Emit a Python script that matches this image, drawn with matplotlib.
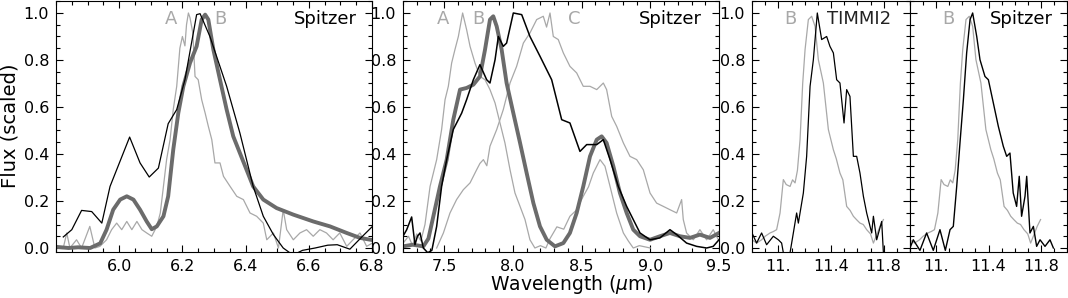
import numpy as np
import matplotlib
matplotlib.use('Agg')
import matplotlib.pyplot as plt
from matplotlib.ticker import MultipleLocator, FixedLocator, FixedFormatter

# ---- panel 1 : 6.2 micron band ----
p1_black_x = [5.823, 5.85, 5.881, 5.913, 5.945, 5.971, 6.033, 6.066, 6.095, 6.124, 6.155, 6.182,
              6.208, 6.245, 6.256, 6.287, 6.34, 6.382, 6.424, 6.456, 6.488, 6.519, 6.55, 6.58,
              6.62, 6.66, 6.69, 6.73, 6.77, 6.8]
p1_black_y = [0.047, 0.078, 0.16, 0.155, 0.106, 0.262, 0.472, 0.362, 0.302, 0.34, 0.529, 0.589,
              0.716, 0.993, 0.997, 0.9, 0.688, 0.489, 0.262, 0.135, 0.057, 0.0, -0.03, -0.01,
              0.0, 0.012, 0.014, -0.005, 0.05, 0.09]

p1_thick_x = [5.8, 5.84, 5.87, 5.908, 5.94, 5.96, 5.981, 6.003, 6.024, 6.045, 6.066, 6.087, 6.103,
              6.119, 6.14, 6.155, 6.171, 6.187, 6.203, 6.224, 6.245, 6.261, 6.272, 6.282, 6.298,
              6.319, 6.34, 6.361, 6.382, 6.403, 6.424, 6.456, 6.498, 6.551, 6.614, 6.667, 6.72,
              6.762, 6.796]
p1_thick_y = [0.005, 0.0, 0.003, 0.0, 0.02, 0.078, 0.163, 0.206, 0.22, 0.206, 0.163, 0.113, 0.08,
              0.092, 0.135, 0.22, 0.418, 0.574, 0.688, 0.787, 0.858, 0.972, 0.993, 0.972, 0.844,
              0.716, 0.589, 0.475, 0.404, 0.333, 0.262, 0.206, 0.17, 0.142, 0.113, 0.092, 0.064,
              0.043, 0.035]

p1_gray_x = [5.8, 5.823, 5.834, 5.844, 5.865, 5.881, 5.907, 5.923, 5.939, 5.96, 5.976, 5.992, 6.008,
             6.024, 6.04, 6.056, 6.072, 6.087, 6.103, 6.119, 6.13, 6.14, 6.15, 6.161, 6.171, 6.182,
             6.192, 6.2, 6.208, 6.213, 6.219, 6.224, 6.233, 6.24, 6.25, 6.261, 6.272, 6.282, 6.293,
             6.303, 6.319, 6.33, 6.351, 6.372, 6.393, 6.414, 6.435, 6.456, 6.467, 6.488, 6.504,
             6.519, 6.53, 6.551, 6.572, 6.593, 6.614, 6.635, 6.656, 6.677, 6.698, 6.72, 6.74,
             6.762, 6.783, 6.8]
p1_gray_y = [0.007, 0.0, 0.064, 0.0, 0.035, 0.0, 0.092, 0.0, 0.007, 0.035, 0.078, 0.106, 0.078,
             0.113, 0.078, 0.113, 0.078, 0.064, 0.05, 0.092, 0.149, 0.262, 0.376, 0.461, 0.589,
             0.688, 0.85, 0.9, 0.86, 0.95, 1.0, 0.98, 0.915, 0.73, 0.716, 0.631, 0.574, 0.518,
             0.461, 0.362, 0.362, 0.305, 0.262, 0.22, 0.206, 0.149, 0.135, 0.106, 0.035, 0.064,
             0.0, 0.163, 0.078, 0.035, 0.064, 0.078, 0.05, 0.078, 0.064, 0.035, 0.064, 0.007,
             0.035, 0.064, 0.007, 0.02]

# ---- panel 2 : 7.7 / 8.6 micron bands ----
p2_black_x = [7.2, 7.227, 7.263, 7.287, 7.305, 7.324, 7.348, 7.38, 7.41, 7.445, 7.481, 7.518, 7.566,
              7.627, 7.663, 7.712, 7.76, 7.809, 7.833, 7.87, 7.894, 7.93, 7.954, 8.003, 8.064,
              8.124, 8.197, 8.282, 8.355, 8.415, 8.488, 8.537, 8.61, 8.658, 8.707, 8.767, 8.828,
              8.876, 8.925, 8.998, 9.07, 9.143, 9.192, 9.264, 9.337, 9.41, 9.458, 9.5]
p2_black_y = [0.05, 0.078, 0.132, 0.014, 0.05, 0.064, 0.0, -0.02, -0.01, 0.092, 0.262, 0.376, 0.504,
              0.574, 0.631, 0.716, 0.78, 0.716, 0.702, 0.801, 0.9, 0.858, 0.872, 1.0, 0.993, 0.9,
              0.816, 0.716, 0.546, 0.532, 0.411, 0.44, 0.44, 0.461, 0.376, 0.262, 0.177, 0.121,
              0.064, 0.035, 0.043, 0.078, 0.057, 0.021, 0.007, 0.0, 0.007, 0.035]

p2_thick_x = [7.2, 7.27, 7.348, 7.385, 7.421, 7.469, 7.518, 7.566, 7.615, 7.663, 7.712, 7.76, 7.797,
              7.833, 7.857, 7.882, 7.918, 7.954, 8.003, 8.052, 8.1, 8.149, 8.197, 8.246, 8.306,
              8.367, 8.415, 8.464, 8.512, 8.561, 8.61, 8.646, 8.682, 8.731, 8.779, 8.828, 8.876,
              8.925, 8.998, 9.07, 9.143, 9.216, 9.289, 9.361, 9.434, 9.5]
p2_thick_y = [0.007, 0.014, 0.007, 0.04, 0.135, 0.262, 0.376, 0.546, 0.674, 0.681, 0.695, 0.73,
              0.844, 0.972, 0.986, 0.943, 0.844, 0.702, 0.574, 0.447, 0.319, 0.191, 0.092, 0.035,
              0.007, 0.021, 0.064, 0.149, 0.262, 0.39, 0.461, 0.475, 0.447, 0.348, 0.234, 0.149,
              0.078, 0.05, 0.035, 0.05, 0.064, 0.05, 0.043, 0.057, 0.043, 0.064]

p2_grayA_x = [7.2, 7.24, 7.27, 7.3, 7.33, 7.36, 7.397, 7.445, 7.481, 7.506, 7.53, 7.554, 7.578,
              7.603, 7.634, 7.663, 7.688, 7.724, 7.76, 7.797, 7.833, 7.87, 7.906, 7.942, 7.979,
              8.015, 8.052, 8.088, 8.124, 8.16, 8.2, 8.24, 8.27, 8.32, 8.37, 8.415, 8.46, 8.512,
              8.55, 8.585, 8.634, 8.67, 8.707, 8.755, 8.804, 8.84, 8.876, 8.92, 9.0]
p2_grayA_y = [0.02, 0.05, 0.01, 0.06, 0.03, 0.1, 0.262, 0.376, 0.504, 0.631, 0.688, 0.787, 0.844,
              0.9, 1.0, 0.929, 0.858, 0.787, 0.73, 0.716, 0.674, 0.617, 0.532, 0.447, 0.333, 0.234,
              0.177, 0.121, 0.035, 0.0, 0.01, 0.0, 0.04, 0.09, 0.08, 0.135, 0.16, 0.22, 0.26,
              0.319, 0.376, 0.348, 0.262, 0.149, 0.064, 0.03, 0.0, 0.01, 0.0]

p2_grayC_x = [7.445, 7.494, 7.542, 7.59, 7.639, 7.688, 7.736, 7.76, 7.785, 7.81, 7.833, 7.882, 7.93,
              7.979, 8.027, 8.076, 8.124, 8.173, 8.221, 8.245, 8.27, 8.294, 8.33, 8.367, 8.415,
              8.464, 8.512, 8.561, 8.61, 8.658, 8.682, 8.719, 8.755, 8.804, 8.852, 8.901, 8.949,
              8.998, 9.046, 9.095, 9.143, 9.192, 9.228, 9.24, 9.264, 9.313, 9.361, 9.41, 9.458,
              9.495]
p2_grayC_y = [0.0, 0.064, 0.149, 0.206, 0.248, 0.277, 0.333, 0.36, 0.376, 0.35, 0.433, 0.504, 0.589,
              0.702, 0.773, 0.872, 0.915, 0.972, 0.986, 0.94, 1.0, 0.9, 0.887, 0.83, 0.773, 0.745,
              0.688, 0.688, 0.674, 0.702, 0.674, 0.56, 0.518, 0.447, 0.39, 0.376, 0.333, 0.234,
              0.191, 0.177, 0.163, 0.149, 0.206, 0.121, 0.064, 0.035, 0.078, 0.035, 0.078, 0.035]

# ---- panels 3 and 4 : 11.2 micron band ----
p3_gray_x = [10.8, 10.835, 10.873, 10.9, 10.937, 10.962, 10.987, 11.013, 11.038, 11.06, 11.089,
             11.108, 11.127, 11.145, 11.165, 11.185, 11.203, 11.228, 11.253, 11.279, 11.304,
             11.342, 11.38, 11.418, 11.44, 11.468, 11.49, 11.519, 11.545, 11.57, 11.595, 11.62,
             11.645, 11.671, 11.7, 11.722, 11.75, 11.772, 11.798]
p3_gray_y = [0.035, 0.021, 0.035, 0.05, 0.064, 0.07, 0.078, 0.149, 0.291, 0.27, 0.262, 0.29,
             0.277, 0.33, 0.461, 0.7, 0.844, 0.972, 0.986, 0.943, 0.801, 0.702, 0.504, 0.418,
             0.38, 0.319, 0.29, 0.177, 0.16, 0.135, 0.12, 0.106, 0.1, 0.078, 0.06, 0.021, 0.06,
             0.092, 0.121]

p3_black_x = [10.8, 10.835, 10.873, 10.911, 10.962, 11.0, 11.025, 11.038, 11.089, 11.114, 11.139,
              11.152, 11.19, 11.215, 11.241, 11.266, 11.296, 11.329, 11.367, 11.392, 11.418,
              11.443, 11.468, 11.499, 11.519, 11.544, 11.57, 11.595, 11.62, 11.646, 11.671,
              11.709, 11.722, 11.747, 11.785, 11.798]
p3_black_y = [0.064, 0.021, 0.064, 0.014, 0.05, 0.035, 0.021, -0.02, -0.02, 0.064, 0.149, 0.106,
              0.234, 0.39, 0.688, 0.801, 1.0, 0.887, 0.9, 0.858, 0.83, 0.716, 0.702, 0.532,
              0.674, 0.645, 0.39, 0.39, 0.319, 0.22, 0.149, 0.064, 0.135, 0.035, 0.113, -0.02]

p4_black_x = [10.8, 10.825, 10.876, 10.927, 10.978, 11.029, 11.07, 11.106, 11.131, 11.157,
              11.182, 11.208, 11.233, 11.259, 11.279, 11.31, 11.335, 11.373, 11.399, 11.437,
              11.475, 11.513, 11.539, 11.564, 11.589, 11.615, 11.635, 11.653, 11.679, 11.692,
              11.717, 11.743, 11.768, 11.794, 11.832, 11.87, 11.896]
p4_black_y = [0.0, 0.035, -0.01, 0.064, -0.01, 0.078, -0.01, 0.078, 0.092, 0.262, 0.447, 0.631,
              0.83, 0.972, 1.0, 0.9, 0.801, 0.73, 0.716, 0.617, 0.518, 0.433, 0.39, 0.404, 0.234,
              0.177, 0.305, 0.135, 0.22, 0.305, 0.064, 0.092, 0.007, 0.035, 0.007, 0.035, 0.0]

THICK = '#6b6b6b'
LIGHT = '#a8a8a8'

plt.rcParams['font.family'] = 'DejaVu Sans'
fig = plt.figure(figsize=(10.68, 2.98), dpi=100)

W, H = 1068.0, 298.0
bot, top = 252.0, 1.0
def make_ax(x0, x1):
    return fig.add_axes([x0 / W, (H - bot) / H, (x1 - x0) / W, (bot - top) / H])

ax1 = make_ax(56, 372)
ax2 = make_ax(403, 719)
ax3 = make_ax(752, 910)
ax4 = make_ax(910, 1067)

ax1.plot(p1_gray_x, p1_gray_y, color=LIGHT, lw=0.9)
ax1.plot(p1_thick_x, p1_thick_y, color=THICK, lw=2.8)
ax1.plot(p1_black_x, p1_black_y, color='black', lw=0.9)

ax2.plot(p2_grayA_x, p2_grayA_y, color=LIGHT, lw=0.9)
ax2.plot(p2_grayC_x, p2_grayC_y, color=LIGHT, lw=0.9)
ax2.plot(p2_thick_x, p2_thick_y, color=THICK, lw=2.8)
ax2.plot(p2_black_x, p2_black_y, color='black', lw=1.1)

ax3.plot(p3_gray_x, p3_gray_y, color=LIGHT, lw=0.9)
ax3.plot(p3_black_x, p3_black_y, color='black', lw=0.9)

ax4.plot(p3_gray_x, p3_gray_y, color=LIGHT, lw=0.9)
ax4.plot(p4_black_x, p4_black_y, color='black', lw=1.0)

for ax in (ax1, ax2, ax3, ax4):
    ax.set_ylim(-0.017, 1.051)
    ax.yaxis.set_major_locator(MultipleLocator(0.2))
    ax.yaxis.set_minor_locator(MultipleLocator(0.05))
    ax.yaxis.set_major_formatter('{x:.1f}')
    ax.tick_params(which='both', direction='in', top=True, right=True, labelsize=11.5,
                   width=0.8, color='black')
    ax.tick_params(which='major', length=5, pad=5)
    ax.tick_params(which='minor', length=3)
    for s in ax.spines.values():
        s.set_linewidth(0.8)

ax1.set_xlim(5.8, 6.8)
ax1.xaxis.set_major_locator(FixedLocator([6.0, 6.2, 6.4, 6.6, 6.8]))
ax1.xaxis.set_major_formatter('{x:.1f}')
ax1.xaxis.set_minor_locator(MultipleLocator(0.05))

ax2.set_xlim(7.2, 9.5)
ax2.xaxis.set_major_locator(FixedLocator([7.5, 8.0, 8.5, 9.0, 9.5]))
ax2.xaxis.set_major_formatter('{x:.1f}')
ax2.xaxis.set_minor_locator(MultipleLocator(0.1))

for ax in (ax3, ax4):
    ax.set_xlim(10.8, 12.0)
    ax.xaxis.set_major_locator(FixedLocator([11.0, 11.4, 11.8]))
    ax.xaxis.set_major_formatter(FixedFormatter(['11.', '11.4', '11.8']))
    ax.xaxis.set_minor_locator(MultipleLocator(0.1))
ax4.tick_params(labelleft=False)

tk = dict(fontsize=13, va='center')
ax1.text(0.364, 0.93, 'A', color=LIGHT, ha='center', transform=ax1.transAxes, **tk)
ax1.text(0.519, 0.93, 'B', color=LIGHT, ha='center', transform=ax1.transAxes, **tk)
ax1.text(0.953, 0.93, 'Spitzer', color='black', ha='right', transform=ax1.transAxes, **tk)
ax2.text(0.127, 0.93, 'A', color=LIGHT, ha='center', transform=ax2.transAxes, **tk)
ax2.text(0.237, 0.93, 'B', color=LIGHT, ha='center', transform=ax2.transAxes, **tk)
ax2.text(0.541, 0.93, 'C', color=LIGHT, ha='center', transform=ax2.transAxes, **tk)
ax2.text(0.946, 0.93, 'Spitzer', color='black', ha='right', transform=ax2.transAxes, **tk)
ax3.text(0.24, 0.93, 'B', color=LIGHT, ha='center', transform=ax3.transAxes, **tk)
ax3.text(0.878, 0.93, 'TIMMI2', color='#222222', ha='right', transform=ax3.transAxes, **tk)
ax4.text(0.242, 0.93, 'B', color=LIGHT, ha='center', transform=ax4.transAxes, **tk)
ax4.text(0.911, 0.93, 'Spitzer', color='black', ha='right', transform=ax4.transAxes, **tk)

fig.text(10 / W, 1 - 126 / H, 'Flux (scaled)', rotation=90, fontsize=14, ha='center', va='center')
fig.text(572 / W, 1 - 284 / H, r'Wavelength ($\mu$m)', fontsize=13.5, ha='center', va='center')

fig.savefig('out.png', dpi=100)
